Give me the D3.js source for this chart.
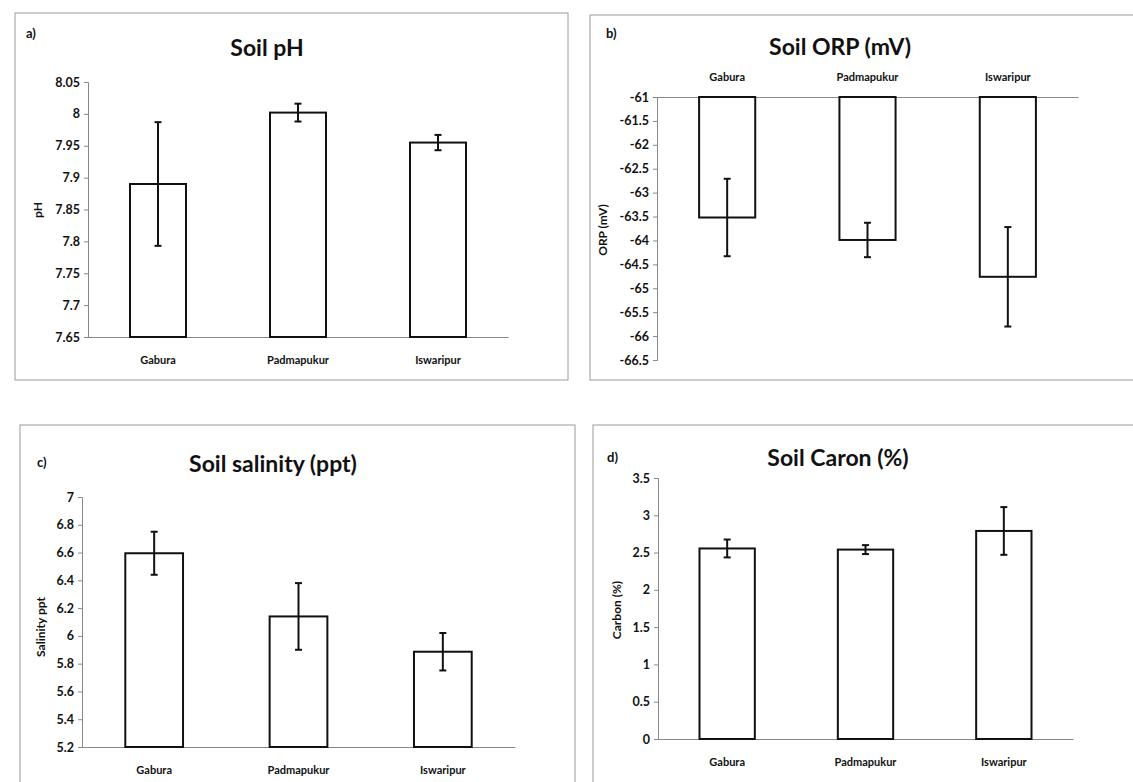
<!DOCTYPE html>
<html>
<head>
<meta charset="utf-8">
<script src="https://cdn.jsdelivr.net/npm/d3@7"></script>
<style>
  body { margin: 0; background: #fff; }
  text { font-family: Lato, "Open Sans", sans-serif; font-weight: bold; fill: #111; }
</style>
</head>
<body>
<script>
// sites shared by all four panels
var sites = ["Gabura", "Padmapukur", "Iswaripur"];

// a) soil pH
var phMean = [7.89, 8.002, 7.955];
var phErr = [0.097, 0.014, 0.012];
var phTicks = [7.65, 7.7, 7.75, 7.8, 7.85, 7.9, 7.95, 8, 8.05];

// b) soil ORP (mV)
var orpMean = [-63.52, -63.99, -64.76];
var orpErr = [0.81, 0.36, 1.04];
var orpTicks = [-61, -61.5, -62, -62.5, -63, -63.5, -64, -64.5, -65, -65.5, -66, -66.5];

// c) soil salinity (ppt)
var salMean = [6.595, 6.14, 5.886];
var salErr = [0.155, 0.24, 0.135];
var salTicks = [5.2, 5.4, 5.6, 5.8, 6, 6.2, 6.4, 6.6, 6.8, 7];

// d) soil carbon (%)
var carbMean = [2.555, 2.54, 2.79];
var carbErr = [0.12, 0.06, 0.32];
var carbTicks = [0, 0.5, 1, 1.5, 2, 2.5, 3, 3.5];

var svgWidth = 1133;
var svgHeight = 782;

var svg = d3.select("body")
  .append("svg")
  .attr("width", svgWidth)
  .attr("height", svgHeight);

var fmt = function(d) { return String(+d.toFixed(2)); };

function drawPanel(p) {
  // outer frame
  svg.append("rect")
    .attr("x", p.frame[0]).attr("y", p.frame[1])
    .attr("width", p.frame[2]).attr("height", p.frame[3])
    .attr("fill", "none").attr("stroke", "#9a9a9a").attr("stroke-width", 1);

  svg.append("text")
    .attr("x", p.letter[0]).attr("y", p.letter[1])
    .style("font-size", "13px")
    .text(p.letterText);

  svg.append("text")
    .attr("x", p.titlePos[0]).attr("y", p.titlePos[1])
    .attr("text-anchor", "middle")
    .style("font-size", "23px")
    .text(p.title);

  var x = d3.scaleBand()
    .domain(sites)
    .range([p.left, p.right])
    .paddingInner(0.6).paddingOuter(0.3);

  // top/bottom are pixel rows of domain max/min
  var y = d3.scaleLinear()
    .domain(p.domain)
    .range([p.bottom, p.top]);

  var g = svg.append("g");

  // y axis
  var yAxis = g.append("g")
    .attr("transform", `translate(${p.left},0)`)
    .call(d3.axisLeft(y).tickValues(p.ticks).tickFormat(fmt).tickSize(4));
  yAxis.select(".domain").attr("stroke", "#888");
  yAxis.selectAll(".tick line").attr("stroke", "#888");
  yAxis.selectAll("text").style("font-size", "12.5px").attr("x", -8);

  // category axis (top for ORP, bottom otherwise)
  var baseVal = p.base;
  var xAxisG = g.append("g")
    .attr("transform", `translate(0,${y(baseVal)})`)
    .call((p.labelsTop ? d3.axisTop(x) : d3.axisBottom(x)).tickSize(0).tickPadding(p.labelsTop ? 16 : 19));
  xAxisG.select(".domain").attr("stroke", "#888");
  xAxisG.selectAll("text").style("font-size", "11px");

  // bars
  g.selectAll(".bar")
    .data(p.mean)
    .enter().append("rect")
    .attr("class", "bar")
    .attr("x", (d, i) => x(sites[i]))
    .attr("width", x.bandwidth())
    .attr("y", d => Math.min(y(d), y(baseVal)))
    .attr("height", d => Math.abs(y(d) - y(baseVal)))
    .attr("fill", "#fff")
    .attr("stroke", "#111")
    .attr("stroke-width", 2);

  // error bars
  var eb = g.selectAll(".err")
    .data(p.mean)
    .enter().append("g")
    .attr("class", "err");
  eb.append("line")
    .attr("x1", (d, i) => x(sites[i]) + x.bandwidth() / 2)
    .attr("x2", (d, i) => x(sites[i]) + x.bandwidth() / 2)
    .attr("y1", (d, i) => y(d + p.err[i]))
    .attr("y2", (d, i) => y(d - p.err[i]))
    .attr("stroke", "#111").attr("stroke-width", 2);
  [1, -1].forEach(function(s) {
    eb.append("line")
      .attr("x1", (d, i) => x(sites[i]) + x.bandwidth() / 2 - 3.5)
      .attr("x2", (d, i) => x(sites[i]) + x.bandwidth() / 2 + 3.5)
      .attr("y1", (d, i) => y(d + s * p.err[i]))
      .attr("y2", (d, i) => y(d + s * p.err[i]))
      .attr("stroke", "#111").attr("stroke-width", 2);
  });

  // y axis label
  svg.append("text")
    .attr("transform", `translate(${p.yLabelPos[0]},${p.yLabelPos[1]}) rotate(-90)`)
    .attr("text-anchor", "middle")
    .style("font-size", "12px")
    .text(p.yLabel);
}

drawPanel({
  frame: [15, 13, 553, 367], letter: [26, 38], letterText: "a)",
  title: "Soil pH", titlePos: [267, 56],
  left: 88, right: 508, top: 82, bottom: 337,
  domain: [7.65, 8.05], ticks: phTicks, base: 7.65,
  mean: phMean, err: phErr, yLabel: "pH", yLabelPos: [42, 210]
});

drawPanel({
  frame: [590, 15, 560, 365], letter: [606, 38], letterText: "b)",
  title: "Soil ORP (mV)", titlePos: [840, 55],
  left: 657, right: 1078, top: 97, bottom: 360,
  domain: [-66.5, -61], ticks: orpTicks, base: -61, labelsTop: true,
  mean: orpMean, err: orpErr, yLabel: "ORP (mV)", yLabelPos: [607, 230]
});

drawPanel({
  frame: [20, 425, 555, 370], letter: [37, 467], letterText: "c)",
  title: "Soil salinity (ppt)", titlePos: [273, 472],
  left: 82, right: 515, top: 497, bottom: 747,
  domain: [5.2, 7], ticks: salTicks, base: 5.2,
  mean: salMean, err: salErr, yLabel: "Salinity ppt", yLabelPos: [45, 627]
});

drawPanel({
  frame: [593, 425, 560, 370], letter: [607, 462], letterText: "d)",
  title: "Soil Caron (%)", titlePos: [838, 466],
  left: 658, right: 1073, top: 478, bottom: 739,
  domain: [0, 3.5], ticks: carbTicks, base: 0,
  mean: carbMean, err: carbErr, yLabel: "Carbon (%)", yLabelPos: [621, 610]
});
</script>
</body>
</html>
